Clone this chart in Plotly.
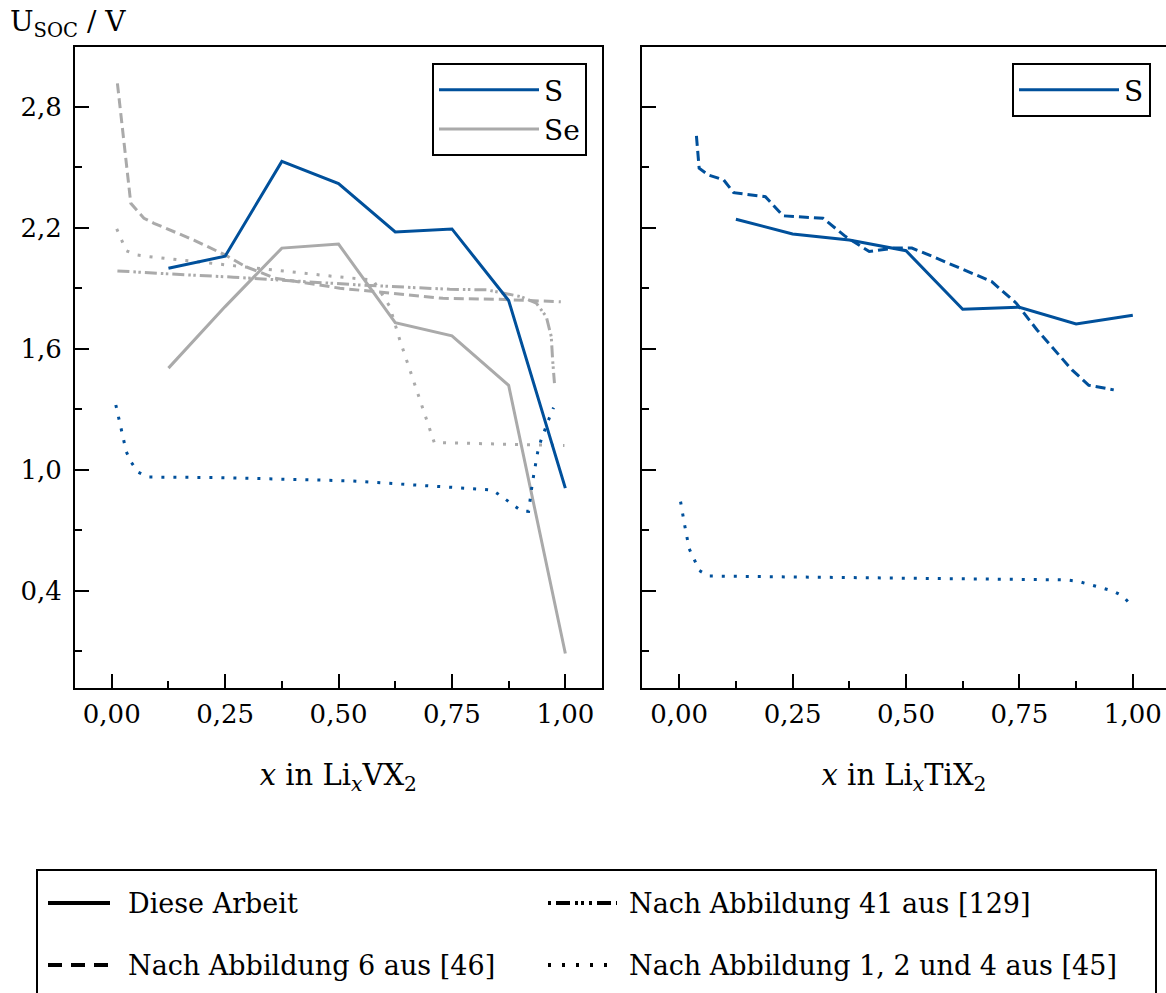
import plotly.graph_objects as go

BLUE = "#00509B"
GRAY = "#AAAAAA"
FONT = "DejaVu Serif"
FS = 26

# ---------------- data: left panel (Li_x V X2) ----------------
v_s_x = [0.125, 0.25, 0.375, 0.5, 0.625, 0.75, 0.875, 1.0]
v_s_y = [2.00, 2.06, 2.53, 2.42, 2.18, 2.195, 1.84, 0.91]
v_se_x = [0.125, 0.25, 0.375, 0.5, 0.625, 0.75, 0.875, 1.0]
v_se_y = [1.505, 1.81, 2.10, 2.12, 1.73, 1.665, 1.42, 0.09]

v_se_ref46_x = [0.0125, 0.042, 0.071, 0.093, 0.181, 0.25, 0.295, 0.36, 0.503, 0.613, 0.73, 0.855, 0.99]
v_se_ref46_y = [2.917, 2.322, 2.248, 2.223, 2.14, 2.066, 2.008, 1.951, 1.901, 1.876, 1.851, 1.846, 1.834]

v_se_ref129_x = [0.0125, 0.1, 0.268, 0.547, 0.745, 0.826, 0.903, 0.936, 0.958, 0.969, 0.972, 0.976]
v_se_ref129_y = [1.987, 1.975, 1.956, 1.917, 1.896, 1.893, 1.859, 1.827, 1.76, 1.661, 1.545, 1.43]

v_se_ref45_x = [0.011, 0.021, 0.032, 0.055, 0.081, 0.185, 0.367, 0.496, 0.576, 0.613, 0.635, 0.677, 0.711, 0.998]
v_se_ref45_y = [2.195, 2.14, 2.087, 2.066, 2.058, 2.033, 1.988, 1.958, 1.942, 1.81, 1.645, 1.364, 1.136, 1.121]

v_s_ref45_x = [0.009, 0.015, 0.02, 0.026, 0.032, 0.043, 0.058, 0.08, 0.24, 0.525, 0.708, 0.839, 0.86,
               0.881, 0.903, 0.919, 0.922, 0.926, 0.93, 0.935, 0.939, 0.946, 0.955, 0.964, 0.974]
v_s_ref45_y = [1.322, 1.264, 1.206, 1.149, 1.091, 1.038, 0.989, 0.965, 0.962, 0.946, 0.921, 0.901, 0.868,
               0.835, 0.797, 0.795, 0.855, 0.914, 0.972, 1.028, 1.088, 1.145, 1.202, 1.254, 1.309]

# ---------------- data: right panel (Li_x Ti X2) ----------------
t_s_x = [0.125, 0.25, 0.375, 0.5, 0.625, 0.75, 0.875, 1.0]
t_s_y = [2.243, 2.170, 2.140, 2.087, 1.797, 1.807, 1.724, 1.767]

t_s_ref46_x = [0.038, 0.044, 0.064, 0.098, 0.12, 0.19, 0.229, 0.317, 0.367, 0.419, 0.474, 0.513, 0.559,
               0.689, 0.743, 0.789, 0.866, 0.903, 0.958]
t_s_ref46_y = [2.656, 2.496, 2.463, 2.438, 2.375, 2.355, 2.26, 2.248, 2.157, 2.083, 2.1, 2.1, 2.058,
               1.934, 1.827, 1.694, 1.496, 1.42, 1.397]

t_s_ref45_x = [0.003, 0.007, 0.012, 0.017, 0.022, 0.033, 0.044, 0.064, 0.25, 0.5, 0.75, 0.854, 0.879,
               0.906, 0.931, 0.956, 0.978, 0.996]
t_s_ref45_y = [0.843, 0.785, 0.727, 0.668, 0.61, 0.557, 0.502, 0.474, 0.47, 0.465, 0.46, 0.455, 0.448,
               0.431, 0.416, 0.4, 0.375, 0.331]

x_ticks = [0, 0.25, 0.5, 0.75, 1.0]
x_minor = [0.125, 0.375, 0.625, 0.875]
y_ticks = [0.4, 1.0, 1.6, 2.2, 2.8]
y_minor = [0.1, 0.7, 1.3, 1.9, 2.5]

style_labels = ["Diese Arbeit", "Nach Abbildung 6 aus [46]",
                "Nach Abbildung 41 aus [129]", "Nach Abbildung 1, 2 und 4 aus [45]"]

DASH = "10px,5px"
DASHDOT = "12px,4px,2.5px,2.5px,2.5px,4px"
DOT = "3px,9px"

# ---------------- figure geometry ----------------
W, H = 1166, 993
ML, MT, MB = 75, 47, 305
PW = W - ML
PH = H - MT - MB


def fx(px):
    return (px - ML) / PW


def fy(py):
    return 1 - (py - MT) / PH


fig = go.Figure()

# left panel traces
fig.add_trace(go.Scatter(x=v_se_ref46_x, y=v_se_ref46_y, mode="lines", showlegend=False,
                         line=dict(color=GRAY, width=3, dash=DASH), xaxis="x", yaxis="y"))
fig.add_trace(go.Scatter(x=v_se_ref129_x, y=v_se_ref129_y, mode="lines", showlegend=False,
                         line=dict(color=GRAY, width=3, dash=DASHDOT), xaxis="x", yaxis="y"))
fig.add_trace(go.Scatter(x=v_se_ref45_x, y=v_se_ref45_y, mode="lines", showlegend=False,
                         line=dict(color=GRAY, width=3, dash=DOT), xaxis="x", yaxis="y"))
fig.add_trace(go.Scatter(x=v_se_x, y=v_se_y, mode="lines", name="Se", legend="legend", legendrank=2,
                         line=dict(color=GRAY, width=3), xaxis="x", yaxis="y"))
fig.add_trace(go.Scatter(x=v_s_ref45_x, y=v_s_ref45_y, mode="lines", showlegend=False,
                         line=dict(color=BLUE, width=3, dash=DOT), xaxis="x", yaxis="y"))
fig.add_trace(go.Scatter(x=v_s_x, y=v_s_y, mode="lines", name="S", legend="legend", legendrank=1,
                         line=dict(color=BLUE, width=3), xaxis="x", yaxis="y"))

# right panel traces
fig.add_trace(go.Scatter(x=t_s_ref46_x, y=t_s_ref46_y, mode="lines", showlegend=False,
                         line=dict(color=BLUE, width=3, dash=DASH), xaxis="x2", yaxis="y2"))
fig.add_trace(go.Scatter(x=t_s_ref45_x, y=t_s_ref45_y, mode="lines", showlegend=False,
                         line=dict(color=BLUE, width=3, dash=DOT), xaxis="x2", yaxis="y2"))
fig.add_trace(go.Scatter(x=t_s_x, y=t_s_y, mode="lines", name="S", legend="legend2",
                         line=dict(color=BLUE, width=3), xaxis="x2", yaxis="y2"))

tickfont = dict(family=FONT, size=FS, color="black")
common_x = dict(showline=True, linewidth=2, linecolor="black", mirror=True, showgrid=False,
                zeroline=False, ticks="inside", ticklen=14, tickwidth=2, tickcolor="black",
                tickvals=x_ticks, tickformat=".2f", tickfont=tickfont, ticklabelstandoff=2,
                minor=dict(tickvals=x_minor, ticks="inside", ticklen=7, tickwidth=2, tickcolor="black"))
common_y = dict(showline=True, linewidth=2, linecolor="black", showgrid=False,
                zeroline=False, ticks="inside", ticklen=14, tickwidth=2, tickcolor="black",
                tickvals=y_ticks, tickformat=".1f", tickfont=tickfont,
                range=[-0.081, 3.097],
                minor=dict(tickvals=y_minor, ticks="inside", ticklen=7, tickwidth=2, tickcolor="black"))

left_w = 526.7
right_x0 = 642
fig.update_layout(
    width=W, height=H,
    margin=dict(l=ML, r=0, t=MT, b=MB, autoexpand=False),
    plot_bgcolor="white", paper_bgcolor="white",
    separators=",.",
    font=dict(family=FONT, size=FS, color="black"),
    xaxis=dict(domain=[0, left_w / PW], range=[-0.081, -0.081 + left_w / 453.6], anchor="y",
               title=dict(text="<i>x</i> in Li<sub><i>x</i></sub>VX<sub>2</sub>",
                          font=dict(family=FONT, size=29), standoff=36),
               **common_x),
    xaxis2=dict(domain=[fx(right_x0), 1], range=[-0.082, -0.082 + (W - right_x0) / 453.6], anchor="y2",
                title=dict(text="<i>x</i> in Li<sub><i>x</i></sub>TiX<sub>2</sub>",
                           font=dict(family=FONT, size=29), standoff=36),
                **common_x),
    yaxis=dict(domain=[0, 1], anchor="x", mirror=True, ticklabelstandoff=6, **common_y),
    yaxis2=dict(domain=[0, 1], anchor="x2", mirror=False, showticklabels=False, **common_y),
    legend=dict(x=fx(587), y=fy(63), xanchor="right", yanchor="top", bgcolor="white",
                bordercolor="black", borderwidth=2, font=dict(family=FONT, size=28),
                itemwidth=100, traceorder="normal"),
    legend2=dict(x=fx(1151), y=fy(63), xanchor="right", yanchor="top", bgcolor="white",
                 bordercolor="black", borderwidth=2, font=dict(family=FONT, size=28),
                 itemwidth=100),
)

# y-axis label (horizontal, top-left)
fig.add_annotation(text="U<sub>SOC</sub> / V", xref="paper", yref="paper", x=fx(8), y=fy(24),
                   xanchor="left", yanchor="middle", showarrow=False,
                   font=dict(family=FONT, size=28, color="black"))

# bottom line-style legend
shapes = [dict(type="rect", xref="paper", yref="paper", x0=fx(37), x1=fx(1156), y0=fy(870), y1=fy(1030),
               line=dict(color="black", width=2), fillcolor="rgba(0,0,0,0)")]
legend_items = [
    (48, 110, 903, "solid", style_labels[0], 126),
    (48, 110, 965, "14px,9px", style_labels[1], 126),
    (548, 617, 903, "3px,5px,14px,5px,3px,3px,3px,5px", style_labels[2], 627),
    (548, 617, 965, "3px,11px", style_labels[3], 627),
]
for x0, x1, yy, dash, label, tx in legend_items:
    shapes.append(dict(type="line", xref="paper", yref="paper", x0=fx(x0), x1=fx(x1), y0=fy(yy), y1=fy(yy),
                       line=dict(color="black", width=4, dash=dash)))
    fig.add_annotation(text=label, xref="paper", yref="paper", x=fx(tx), y=fy(yy), xanchor="left",
                       yanchor="middle", showarrow=False, font=dict(family=FONT, size=27, color="black"))
fig.update_layout(shapes=shapes)

fig.write_html("out.html")
